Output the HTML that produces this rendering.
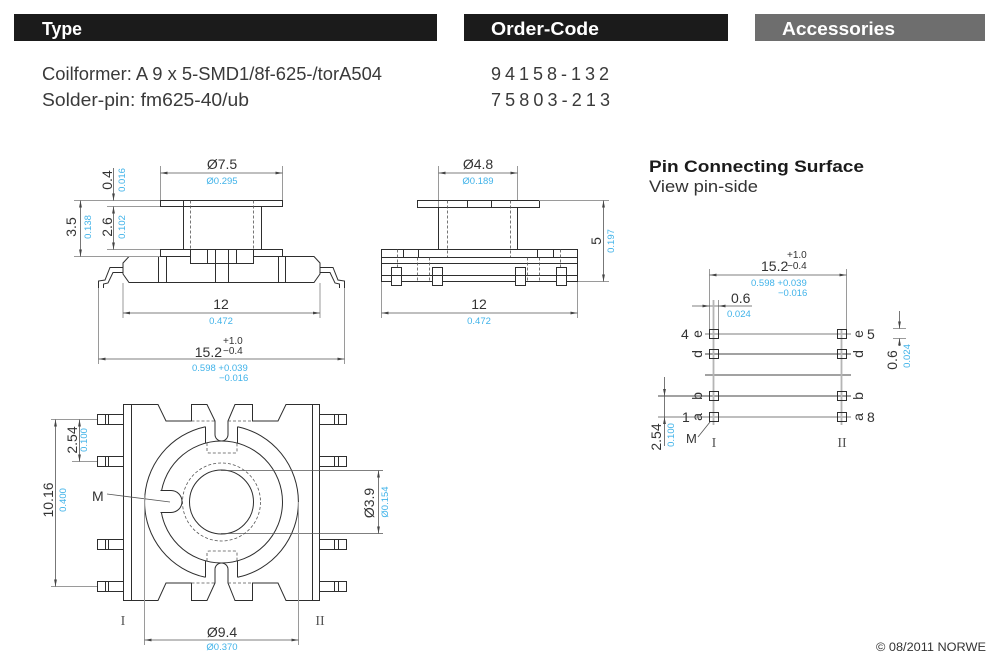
<!DOCTYPE html>
<html><head><meta charset="utf-8">
<style>
html,body{margin:0;padding:0;background:#fff;}
svg{display:block;}
.o{stroke:#2e2e2e;stroke-width:1;fill:none;}
.ow{stroke:#2e2e2e;stroke-width:1;fill:#fff;}
.dl{stroke:#555;stroke-width:0.8;fill:none;}
.e{stroke:#9a9a9a;stroke-width:1;fill:none;}
.g{stroke:#b5b5b5;stroke-width:1.8;fill:none;}
.k{stroke:#444;stroke-width:0.9;fill:none;}
.dash{stroke:#555;stroke-width:0.8;stroke-dasharray:3 2;fill:none;}
text{font-family:"Liberation Sans",sans-serif;fill:#333;font-size:14px;}
.b{fill:#41b3e9;font-size:9.5px;}
.s{font-size:10px;}
.r{font-family:"Liberation Serif",serif;fill:#555;font-size:14px;}
</style></head>
<body>
<svg width="1000" height="668" viewBox="0 0 1000 668" xmlns="http://www.w3.org/2000/svg">
<defs>
<marker id="ar" viewBox="0 0 7 4" refX="7" refY="2" markerWidth="7" markerHeight="4" markerUnits="userSpaceOnUse" orient="auto-start-reverse"><path d="M0,0.6 L7,2 L0,3.4z" fill="#444"/></marker>
</defs>

<!-- Header -->
<rect x="14" y="14" width="423" height="27" fill="#1b1b1b"/>
<rect x="464" y="14" width="264" height="27" fill="#1b1b1b"/>
<rect x="755" y="14" width="230" height="27" fill="#6e6e6e"/>
<text x="42" y="35" font-weight="bold" style="fill:#fff;font-size:18px" textLength="40" lengthAdjust="spacingAndGlyphs">Type</text>
<text x="491" y="35" font-weight="bold" style="fill:#fff;font-size:18px" textLength="108" lengthAdjust="spacingAndGlyphs">Order-Code</text>
<text x="782" y="35" font-weight="bold" style="fill:#fff;font-size:18px" textLength="113" lengthAdjust="spacingAndGlyphs">Accessories</text>

<text x="42" y="80" style="font-size:18px;fill:#3a3a3a" textLength="340" lengthAdjust="spacingAndGlyphs">Coilformer: A 9 x 5-SMD1/8f-625-/torA504</text>
<text x="42" y="106" style="font-size:18px;fill:#3a3a3a" textLength="207" lengthAdjust="spacingAndGlyphs">Solder-pin: fm625-40/ub</text>
<text x="491" y="80" style="font-size:18px;fill:#3a3a3a" textLength="118" lengthAdjust="spacing">94158-132</text>
<text x="491" y="106" style="font-size:18px;fill:#3a3a3a" textLength="119" lengthAdjust="spacing">75803-213</text>

<!-- ============ TOP-LEFT SIDE VIEW ============ -->
<line class="e" x1="160.5" y1="166" x2="160.5" y2="200"/>
<line class="e" x1="282.5" y1="166" x2="282.5" y2="200"/>
<line class="dl" x1="160.5" y1="173" x2="282.5" y2="173" marker-start="url(#ar)" marker-end="url(#ar)"/>
<text x="222" y="169" text-anchor="middle">Ø7.5</text>
<text class="b" x="222" y="184" text-anchor="middle">Ø0.295</text>

<rect class="o" x="160.5" y="200.5" width="122" height="6"/>
<line class="o" x1="183.5" y1="200.5" x2="183.5" y2="249.5"/>
<line class="o" x1="261.5" y1="206.5" x2="261.5" y2="249.5"/>
<line class="dash" x1="190.5" y1="200.5" x2="190.5" y2="249.5"/>
<line class="dash" x1="253.5" y1="200.5" x2="253.5" y2="249.5"/>
<rect class="o" x="160.5" y="249.5" width="122" height="7"/>
<polygon class="ow" points="129,256.5 314,256.5 320,263 320,274 314,282.5 129,282.5 123,274 123,263"/>
<line class="o" x1="158.5" y1="256.5" x2="158.5" y2="282.5"/>
<line class="o" x1="166.5" y1="256.5" x2="166.5" y2="282.5"/>
<line class="o" x1="278.5" y1="256.5" x2="278.5" y2="282.5"/>
<line class="o" x1="285.5" y1="256.5" x2="285.5" y2="282.5"/>
<rect class="ow" x="190.5" y="249.5" width="63" height="14"/>
<line class="o" x1="207.5" y1="249.5" x2="207.5" y2="263.5"/>
<line class="o" x1="236.5" y1="249.5" x2="236.5" y2="263.5"/>
<line class="o" x1="215.5" y1="249.5" x2="215.5" y2="282.5"/>
<line class="o" x1="228.5" y1="249.5" x2="228.5" y2="282.5"/>
<!-- leads -->
<polyline class="o" points="123,267.5 110,267.5 105,280 98.5,281 98.5,288"/>
<polyline class="o" points="123,272.5 113,272.5 108,283 103.5,284 103.5,288"/>
<polyline class="o" points="320,267.5 333,267.5 338,280 344.5,281 344.5,288"/>
<polyline class="o" points="320,272.5 330,272.5 335,283 339.5,284 339.5,288"/>
<line class="e" x1="98.5" y1="288" x2="98.5" y2="364"/>
<line class="e" x1="344.5" y1="288" x2="344.5" y2="364"/>
<line class="e" x1="123" y1="283" x2="123" y2="318"/>
<line class="e" x1="320" y1="283" x2="320" y2="318"/>
<!-- left dims -->
<line class="e" x1="74" y1="200.5" x2="160" y2="200.5"/>
<line class="e" x1="74" y1="256.5" x2="160" y2="256.5"/>
<line class="e" x1="107" y1="206.5" x2="160" y2="206.5"/>
<line class="e" x1="107" y1="249.5" x2="160" y2="249.5"/>
<line class="dl" x1="80.5" y1="200.5" x2="80.5" y2="256.5" marker-start="url(#ar)" marker-end="url(#ar)"/>
<line class="dl" x1="113.5" y1="206.5" x2="113.5" y2="249.5" marker-start="url(#ar)" marker-end="url(#ar)"/>
<line class="dl" x1="113.5" y1="168" x2="113.5" y2="200.5" marker-end="url(#ar)"/>
<text transform="translate(112,180) rotate(-90)" text-anchor="middle">0.4</text>
<text class="b" transform="translate(125,180) rotate(-90)" text-anchor="middle">0.016</text>
<text transform="translate(76,227) rotate(-90)" text-anchor="middle">3.5</text>
<text class="b" transform="translate(91,227) rotate(-90)" text-anchor="middle">0.138</text>
<text transform="translate(112,227) rotate(-90)" text-anchor="middle">2.6</text>
<text class="b" transform="translate(125,227) rotate(-90)" text-anchor="middle">0.102</text>
<!-- bottom dims -->
<line class="dl" x1="123" y1="313" x2="320" y2="313" marker-start="url(#ar)" marker-end="url(#ar)"/>
<text x="221" y="309" text-anchor="middle">12</text>
<text class="b" x="221" y="324" text-anchor="middle">0.472</text>
<line class="dl" x1="98.5" y1="359" x2="344.5" y2="359" marker-start="url(#ar)" marker-end="url(#ar)"/>
<text x="222" y="357" text-anchor="end">15.2</text>
<text class="s" x="223" y="344">+1.0</text>
<text class="s" x="223" y="354">−0.4</text>
<text class="b" x="192" y="371">0.598 +0.039</text>
<text class="b" x="219" y="381">−0.016</text>

<!-- ============ TOP-MIDDLE VIEW ============ -->
<line class="e" x1="438.5" y1="166" x2="438.5" y2="249"/>
<line class="e" x1="517.5" y1="166" x2="517.5" y2="200"/>
<line class="dl" x1="438.5" y1="173" x2="517.5" y2="173" marker-start="url(#ar)" marker-end="url(#ar)"/>
<text x="478" y="169" text-anchor="middle">Ø4.8</text>
<text class="b" x="478" y="184" text-anchor="middle">Ø0.189</text>

<rect class="o" x="417.5" y="200.5" width="122" height="7"/>
<line class="o" x1="467.5" y1="200.5" x2="467.5" y2="207.5"/>
<line class="o" x1="491.5" y1="200.5" x2="491.5" y2="207.5"/>
<line class="o" x1="438.5" y1="207.5" x2="438.5" y2="249.5"/>
<line class="o" x1="517.5" y1="207.5" x2="517.5" y2="249.5"/>
<line class="dash" x1="447.5" y1="200.5" x2="447.5" y2="257"/>
<line class="dash" x1="510.5" y1="200.5" x2="510.5" y2="257"/>
<rect class="o" x="381.5" y="249.5" width="196" height="32"/>
<line class="o" x1="381.5" y1="257.5" x2="577.5" y2="257.5"/>
<line class="o" x1="381.5" y1="263.5" x2="577.5" y2="263.5"/>
<line class="o" x1="381.5" y1="275.5" x2="577.5" y2="275.5"/>
<line class="o" x1="403.5" y1="249.5" x2="403.5" y2="257.5"/>
<line class="o" x1="418.5" y1="249.5" x2="418.5" y2="257.5"/>
<line class="o" x1="537.5" y1="249.5" x2="537.5" y2="257.5"/>
<line class="o" x1="553.5" y1="249.5" x2="553.5" y2="257.5"/>
<line class="dash" x1="397.5" y1="249.5" x2="397.5" y2="281"/>
<line class="dash" x1="429.5" y1="257.5" x2="429.5" y2="281"/>
<line class="dash" x1="417.5" y1="257.5" x2="417.5" y2="281"/>
<line class="dash" x1="527.5" y1="257.5" x2="527.5" y2="281"/>
<line class="dash" x1="539.5" y1="257.5" x2="539.5" y2="281"/>
<line class="dash" x1="560.5" y1="249.5" x2="560.5" y2="281"/>
<rect class="ow" x="391.5" y="267.5" width="10" height="18"/>
<rect class="ow" x="432.5" y="267.5" width="10" height="18"/>
<rect class="ow" x="515.5" y="267.5" width="10" height="18"/>
<rect class="ow" x="556.5" y="267.5" width="10" height="18"/>
<line class="o" x1="391.5" y1="275.5" x2="401.5" y2="275.5"/>
<line class="o" x1="432.5" y1="275.5" x2="442.5" y2="275.5"/>
<line class="o" x1="515.5" y1="275.5" x2="525.5" y2="275.5"/>
<line class="o" x1="556.5" y1="275.5" x2="566.5" y2="275.5"/>
<line class="e" x1="539" y1="200.5" x2="609" y2="200.5"/>
<line class="e" x1="578" y1="281.5" x2="609" y2="281.5"/>
<line class="dl" x1="603.5" y1="200.5" x2="603.5" y2="281.5" marker-start="url(#ar)" marker-end="url(#ar)"/>
<text transform="translate(601,241) rotate(-90)" text-anchor="middle">5</text>
<text class="b" transform="translate(614,241) rotate(-90)" text-anchor="middle">0.197</text>
<line class="e" x1="381.5" y1="282" x2="381.5" y2="318"/>
<line class="e" x1="577.5" y1="282" x2="577.5" y2="318"/>
<line class="dl" x1="381.5" y1="313" x2="577.5" y2="313" marker-start="url(#ar)" marker-end="url(#ar)"/>
<text x="479" y="309" text-anchor="middle">12</text>
<text class="b" x="479" y="324" text-anchor="middle">0.472</text>

<!-- ============ PIN CONNECTING SURFACE ============ -->
<text x="649" y="172" font-weight="bold" style="font-size:17px;fill:#1b1b1b" textLength="215" lengthAdjust="spacingAndGlyphs">Pin Connecting Surface</text>
<text x="649" y="192" style="font-size:17px;fill:#333" textLength="109" lengthAdjust="spacingAndGlyphs">View pin-side</text>

<line class="e" x1="709.5" y1="269" x2="709.5" y2="329"/>
<line class="e" x1="846.5" y1="269" x2="846.5" y2="329"/>
<line class="e" x1="718.5" y1="300" x2="718.5" y2="329"/>
<line class="dl" x1="709.5" y1="275" x2="846.5" y2="275" marker-start="url(#ar)" marker-end="url(#ar)"/>
<text x="761" y="271">15.2</text>
<text class="s" x="787" y="258">+1.0</text>
<text class="s" x="787" y="269">−0.4</text>
<text class="b" x="751" y="286">0.598 +0.039</text>
<text class="b" x="778" y="296">−0.016</text>

<line class="dl" x1="692" y1="306" x2="752" y2="306"/>
<polygon points="709.5,306 702.5,304.6 702.5,307.4" fill="#444"/>
<polygon points="718.5,306 725.5,304.6 725.5,307.4" fill="#444"/>
<text x="731" y="303">0.6</text>
<text class="b" x="727" y="317">0.024</text>

<!-- grid lines -->
<line class="g" x1="705" y1="334" x2="851" y2="334"/>
<line class="k" x1="705" y1="354" x2="851" y2="354"/>
<line class="k" x1="705" y1="375" x2="851" y2="375"/>
<line class="k" x1="658" y1="396" x2="851" y2="396"/>
<line class="g" x1="658" y1="417" x2="851" y2="417"/>
<line class="g" x1="713.5" y1="300" x2="713.5" y2="425"/>
<line class="g" x1="841.5" y1="329" x2="841.5" y2="425"/>
<!-- pins -->
<rect class="o" x="709.5" y="329.5" width="9" height="9"/>
<rect class="o" x="709.5" y="349.5" width="9" height="9"/>
<rect class="o" x="709.5" y="391.5" width="9" height="9"/>
<rect class="o" x="709.5" y="412.5" width="9" height="9"/>
<rect class="o" x="837.5" y="329.5" width="9" height="9"/>
<rect class="o" x="837.5" y="349.5" width="9" height="9"/>
<rect class="o" x="837.5" y="391.5" width="9" height="9"/>
<rect class="o" x="837.5" y="412.5" width="9" height="9"/>
<!-- labels -->
<text x="681" y="339">4</text>
<text transform="translate(702,334) rotate(-90)" text-anchor="middle">e</text>
<text transform="translate(702,354) rotate(-90)" text-anchor="middle">d</text>
<text transform="translate(702,396) rotate(-90)" text-anchor="middle">b</text>
<text transform="translate(702,417) rotate(-90)" text-anchor="middle">a</text>
<text x="682" y="422">1</text>
<text transform="translate(863,334) rotate(-90)" text-anchor="middle">e</text>
<text transform="translate(863,354) rotate(-90)" text-anchor="middle">d</text>
<text transform="translate(863,396) rotate(-90)" text-anchor="middle">b</text>
<text transform="translate(863,417) rotate(-90)" text-anchor="middle">a</text>
<text x="867" y="339">5</text>
<text x="867" y="422">8</text>
<!-- right 0.6 -->
<line class="e" x1="893" y1="328.5" x2="906" y2="328.5"/>
<line class="e" x1="893" y1="338.5" x2="906" y2="338.5"/>
<line class="dl" x1="899.5" y1="311" x2="899.5" y2="328.5" marker-end="url(#ar)"/>
<line class="dl" x1="899.5" y1="346" x2="899.5" y2="338.5" marker-end="url(#ar)"/>
<text transform="translate(897,360) rotate(-90)" text-anchor="middle">0.6</text>
<text class="b" transform="translate(910,356) rotate(-90)" text-anchor="middle">0.024</text>
<!-- left 2.54 -->
<line class="dl" x1="664.5" y1="377" x2="664.5" y2="446"/>
<polygon points="664.5,396 663.1,389 665.9,389" fill="#444"/>
<polygon points="664.5,417 663.1,424 665.9,424" fill="#444"/>
<text transform="translate(661,437) rotate(-90)" text-anchor="middle">2.54</text>
<text class="b" transform="translate(674,435) rotate(-90)" text-anchor="middle">0.100</text>
<text x="686" y="443" style="font-size:13px">M</text>
<line class="dl" x1="698" y1="437" x2="710" y2="422"/>
<text class="r" x="714" y="447" text-anchor="middle">I</text>
<text class="r" x="842" y="447" text-anchor="middle">II</text>

<!-- ============ BOTTOM VIEW ============ -->
<g>
<rect class="o" x="97.5" y="414.5" width="26" height="10"/>
<rect class="o" x="97.5" y="456.5" width="26" height="10"/>
<rect class="o" x="97.5" y="539.5" width="26" height="10"/>
<rect class="o" x="97.5" y="581.5" width="26" height="10"/>
<rect class="o" x="319.5" y="414.5" width="27" height="10"/>
<rect class="o" x="319.5" y="456.5" width="27" height="10"/>
<rect class="o" x="319.5" y="539.5" width="27" height="10"/>
<rect class="o" x="319.5" y="581.5" width="27" height="10"/>
<path class="o" d="M105.5,414.5v10M108.5,414.5v10M105.5,456.5v10M108.5,456.5v10M105.5,539.5v10M108.5,539.5v10M105.5,581.5v10M108.5,581.5v10"/>
<path class="o" d="M334.5,414.5v10M338.5,414.5v10M334.5,456.5v10M338.5,456.5v10M334.5,539.5v10M338.5,539.5v10M334.5,581.5v10M338.5,581.5v10"/>
</g>
<path class="ow" d="M123.5,404.5 H158 L166,421 H191.5 V404.5 H207 L215,421 V434.5 A6.5,6.5 0 0 0 228,434.5 V421 L235,404.5 H252.5 V421 H278 L286,404.5 H319.5 V600.5 H286 L278,583 H252.5 V600.5 H235 L228,583 V569.5 A6.5,6.5 0 0 0 215,569.5 V583 L207,600.5 H191.5 V583 H166 L158,600.5 H123.5 Z"/>
<line class="o" x1="131.5" y1="404.5" x2="131.5" y2="600.5"/>
<line class="o" x1="312.5" y1="404.5" x2="312.5" y2="600.5"/>
<line class="dash" x1="191.5" y1="421" x2="215" y2="421"/>
<line class="dash" x1="228" y1="421" x2="252.5" y2="421"/>
<line class="dash" x1="191.5" y1="583" x2="215" y2="583"/>
<line class="dash" x1="228" y1="583" x2="252.5" y2="583"/>
<path class="o" d="M205.5,426.7 A77,77 0 0 0 205.5,577.3"/>
<path class="o" d="M237.5,426.7 A77,77 0 0 1 237.5,577.3"/>
<line class="o" x1="205.5" y1="426.7" x2="205.5" y2="443.1"/>
<line class="o" x1="237.5" y1="426.7" x2="237.5" y2="443.1"/>
<line class="o" x1="205.5" y1="560.9" x2="205.5" y2="577.3"/>
<line class="o" x1="237.5" y1="560.9" x2="237.5" y2="577.3"/>
<circle class="o" cx="221.5" cy="502" r="61"/>
<circle class="dash" cx="221.5" cy="502" r="39"/>
<circle class="o" cx="221.5" cy="502" r="32"/>
<path class="dash" d="M207,443 V451 Q207,453 209,453 H235 Q237,453 237,451 V443"/>
<path class="dash" d="M207,561 V553 Q207,551 209,551 H235 Q237,551 237,553 V561"/>
<rect x="158" y="490.5" width="14" height="22" fill="#fff"/>
<path class="o" d="M160.5,490.5 H171 A11,11 0 0 1 171,512.5 H160.5"/>
<text x="92" y="501">M</text>
<line class="dl" x1="107" y1="494" x2="170" y2="502"/>
<line class="e" x1="51" y1="419.5" x2="97" y2="419.5"/>
<line class="e" x1="51" y1="586.5" x2="97" y2="586.5"/>
<line class="e" x1="72" y1="461.5" x2="97" y2="461.5"/>
<line class="dl" x1="55.5" y1="419.5" x2="55.5" y2="586.5" marker-start="url(#ar)" marker-end="url(#ar)"/>
<line class="dl" x1="79.5" y1="419.5" x2="79.5" y2="461.5" marker-start="url(#ar)" marker-end="url(#ar)"/>
<text transform="translate(53,500) rotate(-90)" text-anchor="middle">10.16</text>
<text class="b" transform="translate(66,500) rotate(-90)" text-anchor="middle">0.400</text>
<text transform="translate(77,440) rotate(-90)" text-anchor="middle">2.54</text>
<text class="b" transform="translate(87,440) rotate(-90)" text-anchor="middle">0.100</text>
<line class="dl" x1="221" y1="470.5" x2="383" y2="470.5"/>
<line class="dl" x1="221" y1="533.5" x2="383" y2="533.5"/>
<line class="dl" x1="378.5" y1="470.5" x2="378.5" y2="533.5" marker-start="url(#ar)" marker-end="url(#ar)"/>
<text transform="translate(374,503) rotate(-90)" text-anchor="middle">Ø3.9</text>
<text class="b" transform="translate(388,502) rotate(-90)" text-anchor="middle">Ø0.154</text>
<line class="e" x1="144.5" y1="495" x2="144.5" y2="645"/>
<line class="e" x1="298.5" y1="502" x2="298.5" y2="645"/>
<line class="dl" x1="144.5" y1="640" x2="298.5" y2="640" marker-start="url(#ar)" marker-end="url(#ar)"/>
<text x="222" y="637" text-anchor="middle">Ø9.4</text>
<text class="b" x="222" y="650" text-anchor="middle">Ø0.370</text>
<text class="r" x="123" y="625" text-anchor="middle">I</text>
<text class="r" x="320" y="625" text-anchor="middle">II</text>

<text x="876" y="651" style="font-size:11.5px;fill:#333" textLength="110" lengthAdjust="spacingAndGlyphs">© 08/2011 NORWE</text>
</svg>
</body></html>
